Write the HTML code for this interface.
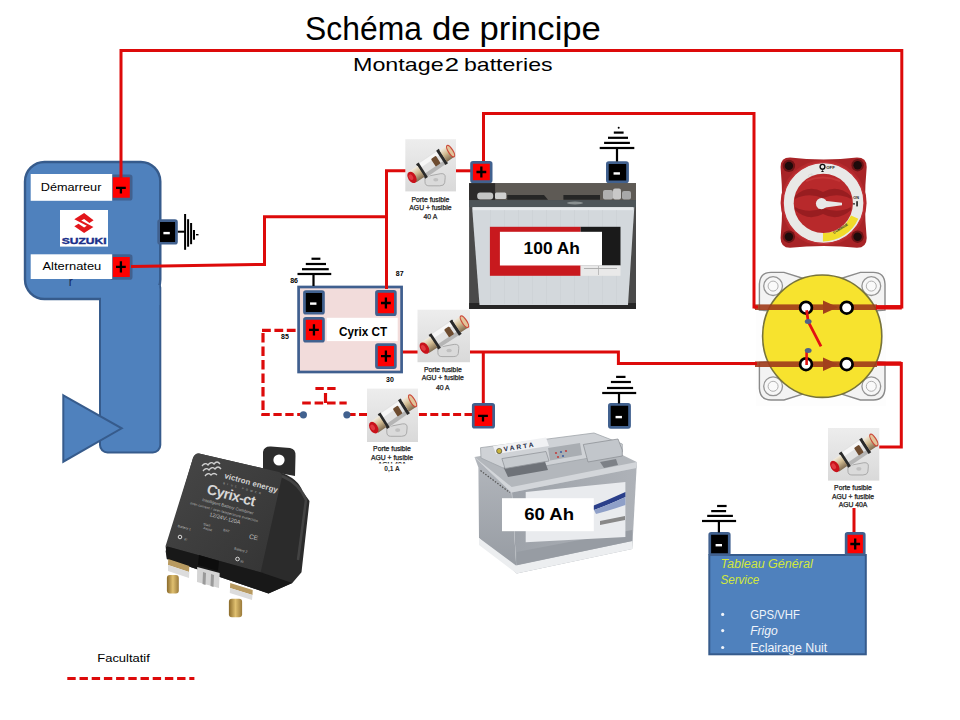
<!DOCTYPE html><html><head><meta charset="utf-8"><style>html,body{margin:0;padding:0;background:#fff;}svg{display:block;}</style></head><body>
<svg width="960" height="720" viewBox="0 0 960 720" font-family='"Liberation Sans", sans-serif'>
<defs>
<linearGradient id="fbg" x1="0" y1="0" x2="0" y2="1"><stop offset="0" stop-color="#ededed"/><stop offset="1" stop-color="#d9d9d9"/></linearGradient>
<linearGradient id="cyf" x1="0" y1="0" x2="1" y2="1"><stop offset="0" stop-color="#474747"/><stop offset="1" stop-color="#343434"/></linearGradient>
<linearGradient id="vfront" x1="0" y1="0" x2="1" y2="0"><stop offset="0" stop-color="#9da2a9"/><stop offset="1" stop-color="#aeb2b8"/></linearGradient>
<linearGradient id="vside" x1="0" y1="0" x2="0" y2="1"><stop offset="0" stop-color="#b3b7bd"/><stop offset="1" stop-color="#959aa1"/></linearGradient>
<linearGradient id="gold" x1="0" y1="0" x2="0" y2="1"><stop offset="0" stop-color="#f2ece0"/><stop offset="0.45" stop-color="#d2bc92"/><stop offset="1" stop-color="#7e6a50"/></linearGradient>
<linearGradient id="stud" x1="0" y1="0" x2="1" y2="0"><stop offset="0" stop-color="#8a6a2a"/><stop offset="0.5" stop-color="#e0c070"/><stop offset="1" stop-color="#9a7a3a"/></linearGradient>
<radialGradient id="knob" cx="0.45" cy="0.4" r="0.6"><stop offset="0" stop-color="#c8383a"/><stop offset="1" stop-color="#9e1e22"/></radialGradient>
</defs>
<text x="305.1" y="40" font-size="33" textLength="116.8" lengthAdjust="spacingAndGlyphs" fill="#000">Schéma</text>
<text x="432" y="40" font-size="33" textLength="38.7" lengthAdjust="spacingAndGlyphs" fill="#000">de</text>
<text x="479.6" y="40" font-size="33" textLength="121.3" lengthAdjust="spacingAndGlyphs" fill="#000">principe</text>
<text x="353" y="71.3" font-size="19" textLength="90.6" lengthAdjust="spacingAndGlyphs" fill="#000">Montage</text>
<text x="444.6" y="71.3" font-size="19" textLength="14.6" lengthAdjust="spacingAndGlyphs" fill="#000">2</text>
<text x="464" y="71.3" font-size="19" textLength="88.5" lengthAdjust="spacingAndGlyphs" fill="#000">batteries</text>
<rect x="100" y="280" width="60.3" height="172.5" rx="7.5" fill="#4f81bd" stroke="#365b8c" stroke-width="2"/>
<rect x="25" y="162" width="135.3" height="137" rx="19.5" fill="#4f81bd" stroke="#365b8c" stroke-width="2.4"/>
<rect x="101" y="285" width="58.3" height="20" fill="#4f81bd"/>
<path d="M63.3,395.3 L121.7,428.3 L63.3,461.7 Z" fill="#4f81bd" stroke="#365b8c" stroke-width="2"/>
<rect x="111.35" y="175.85" width="19.80" height="23.30" rx="1.5" fill="#ff0000" stroke="#41618f" stroke-width="2.7"/>
<path d="M116.00,187.80 H125.80 M120.90,187.80 V193.40" stroke="#000" stroke-width="2.3"/>
<rect x="111.35" y="255.65" width="19.80" height="22.80" rx="1.5" fill="#ff0000" stroke="#41618f" stroke-width="2.7"/>
<path d="M116.00,266.90 H125.80 M120.90,261.30 V272.50" stroke="#000" stroke-width="2.3"/>
<rect x="30.7" y="174" width="81.5" height="26.8" fill="#fff"/>
<rect x="30.7" y="254.3" width="81.5" height="24.7" fill="#fff"/>
<text x="40.8" y="191.1" font-size="11" textLength="60.6" lengthAdjust="spacingAndGlyphs" fill="#000">Démarreur</text>
<text x="42.5" y="269.9" font-size="11" textLength="58.8" lengthAdjust="spacingAndGlyphs" fill="#000">Alternateu</text>
<text x="68.8" y="286" font-size="12" fill="#14285a">r</text>
<rect x="60" y="210" width="48" height="36.6" fill="#fff"/>
<path d="M74.3,219.3 L84.1,213 L93.6,220.3 L89.4,222.9 L84.1,218.9 L81.2,220.6 L93.4,226.9 L84.1,232.9 L74.3,226.3 L78.5,223.7 L84.1,227.4 L86.8,225.7 Z" fill="#e3161b"/>
<text x="84.2" y="243.6" font-size="8.4" font-weight="bold" text-anchor="middle" textLength="44.9" lengthAdjust="spacingAndGlyphs" fill="#1a2f8a" stroke="#1a2f8a" stroke-width="0.35">SUZUKI</text>
<path d="M121,178 L121,50.4 L901.8,50.4 L901.8,307 L870,307" fill="none" stroke="#dd0a0a" stroke-width="3" stroke-linejoin="miter"/>
<path d="M483.5,161 L483.5,113.5 L754,113.5 L754,307 L775,307" fill="none" stroke="#dd0a0a" stroke-width="3" stroke-linejoin="miter"/>
<path d="M131,266.5 L264.5,264.4 L264.5,216.7 L386.5,216.7" fill="none" stroke="#dd0a0a" stroke-width="3" stroke-linejoin="miter"/>
<path d="M386.5,285.5 L386.5,170.8 L406,170.8" fill="none" stroke="#dd0a0a" stroke-width="3" stroke-linejoin="miter"/>
<path d="M455,170.8 L471,170.8" fill="none" stroke="#dd0a0a" stroke-width="3" stroke-linejoin="miter"/>
<path d="M396,352 L418,352" fill="none" stroke="#dd0a0a" stroke-width="3" stroke-linejoin="miter"/>
<path d="M469,352 L618.4,352 L618.4,363.6 L775,363.6" fill="none" stroke="#dd0a0a" stroke-width="3" stroke-linejoin="miter"/>
<path d="M875,363.6 L901.3,363.6 L901.3,447 L879,447" fill="none" stroke="#dd0a0a" stroke-width="3" stroke-linejoin="miter"/>
<path d="M483.3,352 L483.3,404.5" fill="none" stroke="#dd0a0a" stroke-width="3" stroke-linejoin="miter"/>
<path d="M262,330.4 L303,330.4" fill="none" stroke="#dd0a0a" stroke-width="3.2" stroke-linejoin="miter" stroke-dasharray="8.8 3.6"/>
<path d="M263,333 L263,416" fill="none" stroke="#dd0a0a" stroke-width="3.2" stroke-linejoin="miter" stroke-dasharray="9.5 4"/>
<path d="M261.5,414.5 L303,414.5" fill="none" stroke="#dd0a0a" stroke-width="3.2" stroke-linejoin="miter" stroke-dasharray="8.3 3.6"/>
<path d="M347,414.5 L368,414.5" fill="none" stroke="#dd0a0a" stroke-width="3.2" stroke-linejoin="miter" stroke-dasharray="8.6 3.4"/>
<path d="M418.9,414.5 L472,414.5" fill="none" stroke="#dd0a0a" stroke-width="3.2" stroke-linejoin="miter" stroke-dasharray="8 3.4"/>
<path d="M302.2,403 L346.7,403" fill="none" stroke="#dd0a0a" stroke-width="3.2" stroke-linejoin="miter" stroke-dasharray="8.6 3.8"/>
<path d="M325.5,393 L325.5,403" fill="none" stroke="#dd0a0a" stroke-width="3.2" stroke-linejoin="miter"/>
<path d="M315.4,388.5 L336,388.5" fill="none" stroke="#dd0a0a" stroke-width="3.2" stroke-linejoin="miter" stroke-dasharray="8.4 3.4"/>
<path d="M67.3,678.4 L194.4,678.4" fill="none" stroke="#dd0a0a" stroke-width="3" stroke-linejoin="miter" stroke-dasharray="8.4 3.8"/>
<circle cx="303.4" cy="414.8" r="3.6" fill="#41618f"/>
<circle cx="346.9" cy="414.8" r="3.6" fill="#41618f"/>
<rect x="158.65" y="220.65" width="17.80" height="22.60" rx="1.5" fill="#000000" stroke="#41618f" stroke-width="2.7"/>
<rect x="163.40" y="231.90" width="6.4" height="2.4" fill="#fff"/>
<rect x="177.8" y="230.7" width="7" height="2" fill="#000"/>
<rect x="184.1" y="214" width="2" height="35.8" fill="#000"/>
<rect x="187.1" y="219.2" width="2" height="27.5" fill="#000"/>
<rect x="190.1" y="223" width="2" height="21.2" fill="#000"/>
<rect x="193" y="230" width="2" height="9.7" fill="#000"/>
<rect x="196" y="234" width="2.5" height="1.4" fill="#000"/>
<rect x="471.55" y="162.35" width="19.60" height="19.30" rx="1.5" fill="#ff0000" stroke="#41618f" stroke-width="2.7"/>
<path d="M476.45,172.00 H486.25 M481.35,166.40 V177.60" stroke="#000" stroke-width="2.3"/>
<rect x="607.35" y="162.65" width="20.20" height="19.20" rx="1.5" fill="#000000" stroke="#41618f" stroke-width="2.7"/>
<rect x="613.55" y="172.25" width="6.4" height="2.4" fill="#fff"/>
<rect x="599.70" y="146.90" width="34.60" height="2.2" fill="#000"/>
<rect x="604.10" y="141.80" width="25.80" height="2.2" fill="#000"/>
<rect x="608.00" y="136.70" width="20.00" height="2.2" fill="#000"/>
<rect x="613.80" y="131.50" width="9.80" height="2.2" fill="#000"/>
<rect x="615.90" y="148.00" width="2.2" height="13.50" fill="#000"/>
<circle cx="618.7" cy="127.8" r="1" fill="#000"/>
<rect x="298.6" y="287" width="103" height="85" fill="#f2dcdb" stroke="#3f5f8f" stroke-width="2.7"/>
<rect x="326.7" y="317.8" width="71" height="23.3" fill="#fff"/>
<text x="339" y="336" font-size="12.3" font-weight="bold" textLength="48.2" lengthAdjust="spacingAndGlyphs" fill="#000">Cyrix CT</text>
<rect x="304.45" y="291.55" width="19.00" height="21.70" rx="1.5" fill="#000000" stroke="#41618f" stroke-width="2.7"/>
<rect x="310.05" y="302.40" width="6.4" height="2.4" fill="#fff"/>
<rect x="304.45" y="318.45" width="19.00" height="22.80" rx="1.5" fill="#ff0000" stroke="#41618f" stroke-width="2.7"/>
<path d="M309.05,329.85 H318.85 M313.95,324.25 V335.45" stroke="#000" stroke-width="2.3"/>
<rect x="376.45" y="291.35" width="18.90" height="23.30" rx="1.5" fill="#ff0000" stroke="#41618f" stroke-width="2.7"/>
<path d="M381.00,303.00 H390.80 M385.90,297.40 V308.60" stroke="#000" stroke-width="2.3"/>
<rect x="376.45" y="344.65" width="18.90" height="22.90" rx="1.5" fill="#ff0000" stroke="#41618f" stroke-width="2.7"/>
<path d="M381.00,356.10 H390.80 M385.90,350.50 V361.70" stroke="#000" stroke-width="2.3"/>
<path d="M386.5,283 L386.5,289" fill="none" stroke="#dd0a0a" stroke-width="3" stroke-linejoin="miter"/>
<rect x="297.50" y="272.90" width="33.75" height="2.2" fill="#000"/>
<rect x="302.00" y="268.10" width="26.75" height="2.2" fill="#000"/>
<rect x="305.80" y="262.90" width="20.20" height="2.2" fill="#000"/>
<rect x="311.50" y="257.65" width="8.90" height="2.2" fill="#000"/>
<rect x="312.40" y="274.00" width="2.2" height="12.00" fill="#000"/>
<text x="290.2" y="283.2" font-size="7" font-weight="bold" fill="#000">86</text>
<text x="395.8" y="276" font-size="7" font-weight="bold" fill="#000">87</text>
<text x="281" y="338.8" font-size="7" font-weight="bold" fill="#000">85</text>
<text x="386" y="381.5" font-size="7" font-weight="bold" fill="#000">30</text>
<rect x="473.25" y="404.35" width="20.40" height="22.90" rx="1.5" fill="#ff0000" stroke="#41618f" stroke-width="2.7"/>
<path d="M478.10,415.80 H487.90 M483.00,415.80 V421.40" stroke="#000" stroke-width="2.3"/>
<rect x="609.35" y="404.45" width="20.20" height="22.90" rx="1.5" fill="#000000" stroke="#41618f" stroke-width="2.7"/>
<rect x="615.55" y="415.90" width="6.4" height="2.4" fill="#fff"/>
<rect x="602.20" y="391.90" width="34.00" height="2.2" fill="#000"/>
<rect x="607.00" y="386.90" width="26.10" height="2.2" fill="#000"/>
<rect x="610.90" y="380.90" width="20.00" height="2.2" fill="#000"/>
<rect x="616.10" y="375.80" width="9.40" height="2.2" fill="#000"/>
<rect x="617.90" y="393.00" width="2.2" height="10.50" fill="#000"/>
<g transform="translate(405.3,139.2) scale(0.9845,1.0136)">
<rect x="0" y="0" width="51.5" height="51.5" fill="url(#fbg)"/>
<path d="M20,37 L36,34 Q41,33.5 40.5,38 L40,43 Q39.5,46 35,46 L24,46 Q20,46 20,42 Z" fill="#dadada" stroke="#a5a5a5" stroke-width="0.9"/>
<ellipse cx="31" cy="40" rx="2.6" ry="1.8" fill="#c0c0c0"/>
<g transform="translate(26,25) rotate(-33.5)">
<rect x="-10" y="-8.5" width="22.5" height="17" rx="1" fill="#e2e2e2"/>
<rect x="-10" y="-7.5" width="22.5" height="4.5" fill="#f7f7f7"/>
<rect x="-10" y="4" width="22.5" height="4" fill="#b5b5b5"/>
<rect x="3" y="-4.5" width="6" height="9" rx="1" fill="#6e4c30"/>
<rect x="-12.5" y="-8.5" width="3.2" height="17" fill="#2a2a2a"/>
<rect x="12" y="-8.5" width="3.2" height="17" fill="#2a2a2a"/>
<rect x="-22" y="-6.5" width="10" height="13" fill="url(#gold)"/>
<rect x="15" y="-6.8" width="9" height="13.6" fill="url(#gold)"/>
<ellipse cx="24" cy="0" rx="2.3" ry="6.6" fill="#e2c49a" stroke="#cc4a3a" stroke-width="1.2"/>
<ellipse cx="-23" cy="0" rx="4" ry="6.2" fill="#c8121a"/>
<ellipse cx="-23.8" cy="-0.8" rx="2" ry="3" fill="#e23a40"/>
</g>
</g>
<text x="430.4" y="201.5" font-size="6.8" text-anchor="middle" fill="#1a1a1a" stroke="#1a1a1a" stroke-width="0.25">Porte fusible</text>
<text x="430.4" y="209.8" font-size="6.8" text-anchor="middle" fill="#1a1a1a" stroke="#1a1a1a" stroke-width="0.25">AGU + fusible</text>
<text x="430.4" y="219.1" font-size="6.8" text-anchor="middle" fill="#1a1a1a" stroke="#1a1a1a" stroke-width="0.25">40 A</text>
<g transform="translate(417.5,309.7) scale(1.0194,1.0194)">
<rect x="0" y="0" width="51.5" height="51.5" fill="url(#fbg)"/>
<path d="M20,37 L36,34 Q41,33.5 40.5,38 L40,43 Q39.5,46 35,46 L24,46 Q20,46 20,42 Z" fill="#dadada" stroke="#a5a5a5" stroke-width="0.9"/>
<ellipse cx="31" cy="40" rx="2.6" ry="1.8" fill="#c0c0c0"/>
<g transform="translate(26,25) rotate(-33.5)">
<rect x="-10" y="-8.5" width="22.5" height="17" rx="1" fill="#e2e2e2"/>
<rect x="-10" y="-7.5" width="22.5" height="4.5" fill="#f7f7f7"/>
<rect x="-10" y="4" width="22.5" height="4" fill="#b5b5b5"/>
<rect x="3" y="-4.5" width="6" height="9" rx="1" fill="#6e4c30"/>
<rect x="-12.5" y="-8.5" width="3.2" height="17" fill="#2a2a2a"/>
<rect x="12" y="-8.5" width="3.2" height="17" fill="#2a2a2a"/>
<rect x="-22" y="-6.5" width="10" height="13" fill="url(#gold)"/>
<rect x="15" y="-6.8" width="9" height="13.6" fill="url(#gold)"/>
<ellipse cx="24" cy="0" rx="2.3" ry="6.6" fill="#e2c49a" stroke="#cc4a3a" stroke-width="1.2"/>
<ellipse cx="-23" cy="0" rx="4" ry="6.2" fill="#c8121a"/>
<ellipse cx="-23.8" cy="-0.8" rx="2" ry="3" fill="#e23a40"/>
</g>
</g>
<text x="442.8" y="371.6" font-size="6.8" text-anchor="middle" fill="#1a1a1a" stroke="#1a1a1a" stroke-width="0.25">Porte fusible</text>
<text x="442.8" y="380.1" font-size="6.8" text-anchor="middle" fill="#1a1a1a" stroke="#1a1a1a" stroke-width="0.25">AGU + fusible</text>
<text x="442.8" y="390.1" font-size="6.8" text-anchor="middle" fill="#1a1a1a" stroke="#1a1a1a" stroke-width="0.25">40 A</text>
<g transform="translate(367,388.6) scale(0.9903,1.0369)">
<rect x="0" y="0" width="51.5" height="51.5" fill="url(#fbg)"/>
<path d="M20,37 L36,34 Q41,33.5 40.5,38 L40,43 Q39.5,46 35,46 L24,46 Q20,46 20,42 Z" fill="#dadada" stroke="#a5a5a5" stroke-width="0.9"/>
<ellipse cx="31" cy="40" rx="2.6" ry="1.8" fill="#c0c0c0"/>
<g transform="translate(26,25) rotate(-33.5)">
<rect x="-10" y="-8.5" width="22.5" height="17" rx="1" fill="#e2e2e2"/>
<rect x="-10" y="-7.5" width="22.5" height="4.5" fill="#f7f7f7"/>
<rect x="-10" y="4" width="22.5" height="4" fill="#b5b5b5"/>
<rect x="3" y="-4.5" width="6" height="9" rx="1" fill="#6e4c30"/>
<rect x="-12.5" y="-8.5" width="3.2" height="17" fill="#2a2a2a"/>
<rect x="12" y="-8.5" width="3.2" height="17" fill="#2a2a2a"/>
<rect x="-22" y="-6.5" width="10" height="13" fill="url(#gold)"/>
<rect x="15" y="-6.8" width="9" height="13.6" fill="url(#gold)"/>
<ellipse cx="24" cy="0" rx="2.3" ry="6.6" fill="#e2c49a" stroke="#cc4a3a" stroke-width="1.2"/>
<ellipse cx="-23" cy="0" rx="4" ry="6.2" fill="#c8121a"/>
<ellipse cx="-23.8" cy="-0.8" rx="2" ry="3" fill="#e23a40"/>
</g>
</g>
<text x="392" y="451.1" font-size="6.8" text-anchor="middle" fill="#1a1a1a" stroke="#1a1a1a" stroke-width="0.25">Porte fusible</text>
<text x="392" y="459.5" font-size="6.8" text-anchor="middle" fill="#1a1a1a" stroke="#1a1a1a" stroke-width="0.25">AGU + fusible</text>
<text x="392" y="466.8" font-size="6.8" text-anchor="middle" fill="#1a1a1a" stroke="#1a1a1a" stroke-width="0.25">AGU 40A</text>
<rect x="375" y="463.5" width="36" height="10" fill="#fff"/>
<text x="392" y="470.6" font-size="6.6" font-weight="bold" text-anchor="middle" fill="#2a2a2a">0,1 A</text>
<g transform="translate(828,428) scale(0.9961,1.0214)">
<rect x="0" y="0" width="51.5" height="51.5" fill="url(#fbg)"/>
<path d="M20,37 L36,34 Q41,33.5 40.5,38 L40,43 Q39.5,46 35,46 L24,46 Q20,46 20,42 Z" fill="#dadada" stroke="#a5a5a5" stroke-width="0.9"/>
<ellipse cx="31" cy="40" rx="2.6" ry="1.8" fill="#c0c0c0"/>
<g transform="translate(26,25) rotate(-33.5)">
<rect x="-10" y="-8.5" width="22.5" height="17" rx="1" fill="#e2e2e2"/>
<rect x="-10" y="-7.5" width="22.5" height="4.5" fill="#f7f7f7"/>
<rect x="-10" y="4" width="22.5" height="4" fill="#b5b5b5"/>
<rect x="3" y="-4.5" width="6" height="9" rx="1" fill="#6e4c30"/>
<rect x="-12.5" y="-8.5" width="3.2" height="17" fill="#2a2a2a"/>
<rect x="12" y="-8.5" width="3.2" height="17" fill="#2a2a2a"/>
<rect x="-22" y="-6.5" width="10" height="13" fill="url(#gold)"/>
<rect x="15" y="-6.8" width="9" height="13.6" fill="url(#gold)"/>
<ellipse cx="24" cy="0" rx="2.3" ry="6.6" fill="#e2c49a" stroke="#cc4a3a" stroke-width="1.2"/>
<ellipse cx="-23" cy="0" rx="4" ry="6.2" fill="#c8121a"/>
<ellipse cx="-23.8" cy="-0.8" rx="2" ry="3" fill="#e23a40"/>
</g>
</g>
<text x="853" y="489.6" font-size="6.8" text-anchor="middle" fill="#1a1a1a" stroke="#1a1a1a" stroke-width="0.25">Porte fusible</text>
<text x="853" y="498.6" font-size="6.8" text-anchor="middle" fill="#1a1a1a" stroke="#1a1a1a" stroke-width="0.25">AGU + fusible</text>
<text x="853" y="506.6" font-size="6.8" text-anchor="middle" fill="#1a1a1a" stroke="#1a1a1a" stroke-width="0.25">AGU 40A</text>
<path d="M854,508 L854,533" fill="none" stroke="#dd0a0a" stroke-width="3" stroke-linejoin="miter"/>
<rect x="469.1" y="183.2" width="166.9" height="125.7" fill="#4a4a4a"/><rect x="469.1" y="303" width="166.9" height="6" fill="#262626"/>
<rect x="469.1" y="183.2" width="166.9" height="17" fill="#5e5a55"/>
<rect x="469.1" y="183.2" width="26" height="17" fill="#2c2a2a"/>
<rect x="477.2" y="192.6" width="16" height="6.8" rx="3" fill="#c4c4c4"/>
<rect x="495" y="192.6" width="11.3" height="6.5" rx="1.5" fill="#d0d0d0"/>
<path d="M507.2,195 L544,195 L548,199.7 L507.2,199.7 Z" fill="#262626"/>
<path d="M563.4,195 L600,195 L600,199.7 L563.4,199.7 Z" fill="#262626"/>
<rect x="603" y="190" width="10" height="9.5" rx="2" fill="#b0b0b0"/>
<rect x="613" y="188.5" width="8" height="11" rx="2" fill="#c8c8c8"/>
<rect x="622" y="191" width="9" height="8.5" rx="2" fill="#a8a8a8"/>
<rect x="469.1" y="200.1" width="166.9" height="7.1" fill="#4e5558"/>
<ellipse cx="575" cy="203" rx="8" ry="1.5" fill="#8a9090"/>
<path d="M472.1,207.2 L634.3,207.2 L628,305 L479.5,305 Z" fill="#d3d8dc"/>
<rect x="473" y="207.2" width="160" height="3" fill="#e6e9eb"/>
<rect x="490" y="210" width="0.8" height="94" fill="#c8cdd1" opacity="0.6"/>
<rect x="504" y="210" width="0.8" height="94" fill="#c8cdd1" opacity="0.6"/>
<rect x="518" y="210" width="0.8" height="94" fill="#c8cdd1" opacity="0.6"/>
<rect x="532" y="210" width="0.8" height="94" fill="#c8cdd1" opacity="0.6"/>
<rect x="546" y="210" width="0.8" height="94" fill="#c8cdd1" opacity="0.6"/>
<rect x="560" y="210" width="0.8" height="94" fill="#c8cdd1" opacity="0.6"/>
<rect x="574" y="210" width="0.8" height="94" fill="#c8cdd1" opacity="0.6"/>
<rect x="588" y="210" width="0.8" height="94" fill="#c8cdd1" opacity="0.6"/>
<rect x="602" y="210" width="0.8" height="94" fill="#c8cdd1" opacity="0.6"/>
<rect x="616" y="210" width="0.8" height="94" fill="#c8cdd1" opacity="0.6"/>
<rect x="489.9" y="226.8" width="90.7" height="49" fill="#c8191e"/>
<rect x="580.6" y="226.8" width="39.9" height="38.7" fill="#1a1a1a"/>
<rect x="580.6" y="265.5" width="39.9" height="10.3" fill="#e9e9e9"/>
<rect x="584" y="268" width="33" height="0.7" fill="#999"/><rect x="598" y="266" width="0.7" height="9" fill="#aaa"/>
<rect x="499.9" y="231.8" width="102.1" height="33.7" fill="#fff"/>
<text x="523.6" y="253.8" font-size="16.8" font-weight="bold" textLength="56.4" lengthAdjust="spacingAndGlyphs" fill="#000">100 Ah</text>
<path d="M474.5,457 L511.7,492.5 L516.7,573.6 L479,538 L478.4,467.5 Z" fill="url(#vside)"/>
<path d="M511.7,487 L636.7,465.6 L632.2,549 L516.7,573.6 Z" fill="url(#vfront)"/>
<path d="M474.5,457 L588,438 L636.7,462 L636.7,468 L511.7,492.5 Z" fill="#b3b7bc"/>
<path d="M474.5,457 L511.7,487 L636.7,462 L636.7,468 L511.7,492.5 Z" fill="#d3d6da"/>
<path d="M480.5,447.7 L594,433 L622.3,444 L622.3,452 L512,472 L481,458 Z" fill="#cfd2d6" stroke="#a0a4a9" stroke-width="0.8"/>
<path d="M493,446 L546,437.5 L549,446 L496,454 Z" fill="#f0f1f3"/>
<text transform="translate(504,451.5) rotate(-9)" font-size="6.6" font-weight="bold" textLength="30" fill="#222a44">VARTA</text>
<circle cx="499.2" cy="451" r="2.6" fill="#c8b43c" stroke="#333" stroke-width="0.6"/>
<path d="M503.6,467.5 L544.4,460 L548,470 L508,477 Z" fill="#6e7278"/>
<path d="M501.9,458.6 L546,451.5 L549,461 L505,468.5 Z" fill="#c6cace" stroke="#92969b" stroke-width="0.8"/>
<path d="M548,448 L580,443 L582,455 L550,460.4 Z" fill="#a9adb2"/>
<circle cx="556" cy="453" r="1.1" fill="#c04040"/><circle cx="561" cy="452" r="1.1" fill="#4060a0"/><circle cx="566" cy="451" r="1.1" fill="#c04040"/><circle cx="558" cy="457" r="1.1" fill="#c04040"/><circle cx="563" cy="456" r="1.1" fill="#4060a0"/>
<path d="M583.3,444.5 L618,439 L622.3,450 L622.3,456 L588,462 Z" fill="#c2c6cb" stroke="#8e9297" stroke-width="0.8"/>
<path d="M600,462 L616,459 L618,465 L604,468 Z" fill="#7d8187"/>
<path d="M480.5,470.6 L509.7,492.5" stroke="#555" stroke-width="1.2" stroke-dasharray="1.5 1.5"/>
<path d="M479,538 L516,565.4 L632.2,541 L632.2,549 L516.7,573.6 L479,545 Z" fill="#eceef0"/>
<path d="M516.7,552 L632.2,530 L632.2,541 L516.7,565 Z" fill="#979ca3"/>
<path d="M525.7,492 L625.4,481.9 L625.4,537 L525.7,542.3 Z" fill="#e9ebee"/>
<path d="M590,507 Q608,500 625.4,492 L625.4,497 Q608,505 594,510 Z" fill="#2a3f8a"/><path d="M594,510 Q608,505 625.4,497 L625.4,505 Q608,511 596,514 Z" fill="#8fa0c8"/>
<path d="M600,521 L625,516 L625,520 L600,525 Z" fill="#888"/>
<rect x="502" y="498.2" width="91.8" height="33" fill="#fff"/>
<text x="524.2" y="519.8" font-size="16.5" font-weight="bold" textLength="49.8" lengthAdjust="spacingAndGlyphs" fill="#000">60  Ah</text>
<path d="M790,157.6 Q806,159.5 823.6,159.5 Q841,159.5 857,157.6 Q866.7,157.6 866.7,167 Q865,185 865,202.7 Q865,221 866.7,238 Q866.7,247.8 857,247.8 Q841,246 823.6,246 Q806,246 790,247.8 Q780.6,247.8 780.6,238 Q782.2,221 782.2,202.7 Q782.2,185 780.6,167 Q780.6,157.6 790,157.6 Z" fill="#a82427"/>
<circle cx="823.6" cy="203" r="43" fill="#b52a2d"/>
<circle cx="788.9" cy="165.9" r="6.2" fill="#6e1416"/><circle cx="788.9" cy="165.9" r="4.2" fill="#1e0b0b"/>
<circle cx="857.6" cy="165.2" r="6.2" fill="#6e1416"/><circle cx="857.6" cy="165.2" r="4.2" fill="#1e0b0b"/>
<circle cx="788.9" cy="236.7" r="6.2" fill="#6e1416"/><circle cx="788.9" cy="236.7" r="4.2" fill="#1e0b0b"/>
<circle cx="857.6" cy="236.7" r="6.2" fill="#6e1416"/><circle cx="857.6" cy="236.7" r="4.2" fill="#1e0b0b"/>
<circle cx="823.6" cy="203" r="40.4" fill="#e9e9e7" stroke="#c03035" stroke-width="1.2"/>
<path d="M858.3,218.7 A38.5,38.5 0 0 1 822.9,241.5 L823,232.8 A29.5,29.5 0 0 0 851,215.5 Z" fill="#f1dc2a"/>
<text transform="translate(834,234) rotate(-32)" font-size="3.6" font-weight="bold" fill="#333">COMBINE</text>
<text x="809" y="178" font-size="4" fill="#c9c9c9" transform="rotate(-30 809 178)">CE</text>
<circle cx="823.3" cy="203.4" r="29.6" fill="#b8292b"/>
<path d="M795,196 Q808,184 823,192 Q838,184 851,196 L851,199 Q838,192 823,198 Q808,192 795,199 Z" fill="#8e1a1d" opacity="0.75"/>
<path d="M795,210 Q808,222 823,214 Q838,222 851,210 L851,207 Q838,214 823,208 Q808,214 795,207 Z" fill="#8e1a1d" opacity="0.75"/>
<path d="M806,181 Q823,174 840,181" fill="none" stroke="#cc4040" stroke-width="2" opacity="0.6"/>
<path d="M818,200 L842,202.8 L842,205.2 L818,208.5 Z" fill="#e8e8e8"/><circle cx="821.5" cy="203.6" r="5.6" fill="#e8e8e8"/>
<circle cx="822.5" cy="166.8" r="2.4" fill="none" stroke="#111" stroke-width="1.4"/>
<path d="M822.5,170 l-1.5,2 h3 Z" fill="#111"/>
<text x="826.2" y="168.9" font-size="4.3" font-weight="bold" fill="#222">OFF</text>
<text x="853.2" y="199.2" font-size="3.8" font-weight="bold" fill="#222">ON</text>
<rect x="856.3" y="201.2" width="1.5" height="5.2" fill="#111"/><circle cx="854" cy="203.8" r="0.9" fill="#111"/>
<rect x="756" y="270" width="130" height="136" fill="#fdfdfd"/>
<g transform="translate(822.2,336.2) scale(1,1) translate(-822.2,-336.2)">
<path d="M759.4,310 L759.4,284 Q760,272.4 771,272.4 L784,272.4 L805,279 L785,312 Z" fill="#f3f3f3" stroke="#8a8a8a" stroke-width="1.4"/>
<circle cx="773.1" cy="286.1" r="9.4" fill="#f7f7f7" stroke="#959595" stroke-width="1.3"/><circle cx="773.1" cy="286.1" r="5" fill="#fafafa" stroke="#b0b0b0" stroke-width="1"/>
</g>
<g transform="translate(822.2,336.2) scale(-1,1) translate(-822.2,-336.2)">
<path d="M759.4,310 L759.4,284 Q760,272.4 771,272.4 L784,272.4 L805,279 L785,312 Z" fill="#f3f3f3" stroke="#8a8a8a" stroke-width="1.4"/>
<circle cx="773.1" cy="286.1" r="9.4" fill="#f7f7f7" stroke="#959595" stroke-width="1.3"/><circle cx="773.1" cy="286.1" r="5" fill="#fafafa" stroke="#b0b0b0" stroke-width="1"/>
</g>
<g transform="translate(822.2,336.2) scale(1,-1) translate(-822.2,-336.2)">
<path d="M759.4,310 L759.4,284 Q760,272.4 771,272.4 L784,272.4 L805,279 L785,312 Z" fill="#f3f3f3" stroke="#8a8a8a" stroke-width="1.4"/>
<circle cx="773.1" cy="286.1" r="9.4" fill="#f7f7f7" stroke="#959595" stroke-width="1.3"/><circle cx="773.1" cy="286.1" r="5" fill="#fafafa" stroke="#b0b0b0" stroke-width="1"/>
</g>
<g transform="translate(822.2,336.2) scale(-1,-1) translate(-822.2,-336.2)">
<path d="M759.4,310 L759.4,284 Q760,272.4 771,272.4 L784,272.4 L805,279 L785,312 Z" fill="#f3f3f3" stroke="#8a8a8a" stroke-width="1.4"/>
<circle cx="773.1" cy="286.1" r="9.4" fill="#f7f7f7" stroke="#959595" stroke-width="1.3"/><circle cx="773.1" cy="286.1" r="5" fill="#fafafa" stroke="#b0b0b0" stroke-width="1"/>
</g>
<ellipse cx="822.2" cy="336.2" rx="59.6" ry="61.2" fill="#f7e32e" stroke="#77733a" stroke-width="1.6"/>
<rect x="755" y="304.4" width="122" height="5.6" fill="#9e3a1a" opacity="0.9"/>
<rect x="755" y="361.4" width="122" height="5.6" fill="#9e3a1a" opacity="0.9"/>
<path d="M823,300.5 L838,307.2 L823,314 Z" fill="#a2401c"/><path d="M823,357.5 L838,364.2 L823,371 Z" fill="#a2401c"/>
<circle cx="806" cy="307.7" r="5.9" fill="#fff" stroke="#000" stroke-width="2.7"/>
<circle cx="846.7" cy="307.7" r="5.9" fill="#fff" stroke="#000" stroke-width="2.7"/>
<circle cx="806" cy="364.2" r="5.9" fill="#fff" stroke="#000" stroke-width="2.7"/>
<circle cx="846.7" cy="364.2" r="5.9" fill="#fff" stroke="#000" stroke-width="2.7"/>
<path d="M806.6,310.3 L808.2,321.6 L821,346.3" fill="none" stroke="#e31212" stroke-width="2.8"/>
<path d="M806.6,352 L806.6,365" stroke="#e31212" stroke-width="2.6"/>
<ellipse cx="808.2" cy="321.6" rx="3.4" ry="2.5" fill="#4f6388"/><ellipse cx="808.2" cy="350.4" rx="3.4" ry="2.5" fill="#4f6388"/>
<path d="M876,307.3 L901.8,307.3" fill="none" stroke="#dd0a0a" stroke-width="4.4" stroke-linejoin="miter"/>
<path d="M877,363.6 L901.3,363.6" fill="none" stroke="#dd0a0a" stroke-width="4.4" stroke-linejoin="miter"/>
<path d="M754,307 L758,307" fill="none" stroke="#dd0a0a" stroke-width="3" stroke-linejoin="miter"/>
<path d="M740,363.6 L757,363.6" fill="none" stroke="#dd0a0a" stroke-width="3" stroke-linejoin="miter"/>
<path d="M263,452 Q264,446 271,446.5 L290,448 Q296,449 295.5,456 L295,476 L263,470 Z" fill="#2c2c2c"/>
<circle cx="279" cy="460" r="5.6" fill="#fff"/>
<path d="M199,453.5 L279.1,472 Q298,478 302.9,491.8 L309.5,501 L301.5,572.3 L292.3,582.9 L268.5,593.4 L166.9,559.1 L165.6,551.2 L193,458 Q195,453 199,453.5 Z" fill="#2b2b2b"/>
<path d="M199,453.5 L279.1,472 Q283,473.5 281.7,478 L260.6,572.3 L165.6,545.9 L193,458 Q195,453 199,453.5 Z" fill="url(#cyf)"/>
<path d="M282,476 Q300,484 306,500 L298,560" fill="none" stroke="#4a4a4a" stroke-width="2.5" opacity="0.8"/>
<path d="M165.6,545.9 L260.6,572.3 L292.3,582.9 L268.5,593.4 L166.9,559.1 Z" fill="#181818"/>
<g fill="#d6d6d6" font-weight="bold">
<text transform="translate(206,493.5) rotate(15)" font-size="14.5" textLength="50">Cyrix-ct</text>
<text transform="translate(224,478) rotate(15.4)" font-size="7.8" textLength="55">victron energy</text>
</g>
<g fill="#bdbdbd">
<text transform="translate(223,484) rotate(15.4)" font-size="2.6" textLength="40" letter-spacing="1">BLUE POWER</text>
<text transform="translate(202,501) rotate(15)" font-size="4.2" textLength="53">Intelligent Battery Combiner</text>
<text transform="translate(190,504) rotate(15)" font-size="3.4" textLength="70">over-current / over-temperature protection</text>
<text transform="translate(209,516) rotate(15)" font-size="5.6" textLength="32">12/24V-120A</text>
<text transform="translate(177.5,527) rotate(15)" font-size="3.4">Battery 1</text>
<text transform="translate(203,525) rotate(15)" font-size="3.4">Start</text>
<text transform="translate(203,529) rotate(15)" font-size="3.4">Assist</text>
<text transform="translate(223,531) rotate(15)" font-size="3.4">BAT</text>
<text transform="translate(248.7,538.5) rotate(12)" font-size="6.5">CE</text>
<text transform="translate(234,549.5) rotate(15)" font-size="3.4">Battery 2</text>
<text transform="translate(184,540) rotate(15)" font-size="3">87</text>
<text transform="translate(240,562) rotate(15)" font-size="3">30</text>
</g>
<path d="M202,466 q3,-4 6,-1 q3,-4 6,-1 q3,-4 6,0 M203,471 q3,-4 6,-1 q3,-4 6,-1 q3,-4 6,0 M205,476 q3,-4 6,-1 q3,-3 6,0" fill="none" stroke="#d0d0d0" stroke-width="1.3"/>
<circle cx="180" cy="537" r="1.8" fill="none" stroke="#ddd" stroke-width="1"/><circle cx="237.5" cy="559" r="1.8" fill="none" stroke="#ddd" stroke-width="1"/>
<path d="M199,555 L219,561 L218,571 L198,565 Z" fill="#0d0d0d"/>
<path d="M197.2,567 L219.7,573 L219,588 L197,582 Z" fill="#d4d4d4"/>
<path d="M203,572 L206,573 L205.5,585 L202.5,584 Z M211,574 L214,575 L213.5,587 L210.5,586 Z" fill="#9a9a9a"/>
<path d="M168.2,559 L189.3,566 L189,572 L168,565 Z" fill="#b89a60"/>
<path d="M168,565 L189.3,572 L189,578 L168,571 Z" fill="#dcdcdc"/>
<path d="M230.2,583 L252.7,590 L252.5,595 L230,588 Z" fill="#b89a60"/>
<path d="M230,588 L252.5,595 L252,600 L229.8,593 Z" fill="#dcdcdc"/>
<rect x="166.9" y="575" width="11.9" height="18.4" rx="3" fill="url(#stud)"/>
<rect x="228.9" y="598.7" width="13.2" height="18.5" rx="3" fill="url(#stud)"/>
<rect x="709.3" y="555" width="156.5" height="99.3" fill="#4f81bd" stroke="#365b8c" stroke-width="2"/>
<rect x="709.75" y="533.35" width="19.50" height="21.30" rx="1.5" fill="#000000" stroke="#41618f" stroke-width="2.7"/>
<rect x="715.60" y="544.00" width="6.4" height="2.4" fill="#fff"/>
<rect x="846.15" y="533.35" width="18.10" height="21.30" rx="1.5" fill="#ff0000" stroke="#41618f" stroke-width="2.7"/>
<path d="M850.30,544.00 H860.10 M855.20,538.40 V549.60" stroke="#000" stroke-width="2.3"/>
<text x="720.4" y="567.8" font-size="12.3" font-style="italic" textLength="92.4" lengthAdjust="spacingAndGlyphs" fill="#d2e83c">Tableau Général</text>
<text x="720.4" y="584.3" font-size="12.3" font-style="italic" textLength="38.9" lengthAdjust="spacingAndGlyphs" fill="#d2e83c">Service</text>
<circle cx="722.7" cy="614.4" r="1.6" fill="#f0f4fa"/>
<circle cx="722.7" cy="630.6" r="1.6" fill="#f0f4fa"/>
<circle cx="722.7" cy="647.5" r="1.6" fill="#f0f4fa"/>
<text x="750.2" y="619.3" font-size="12.3" textLength="49.8" lengthAdjust="spacingAndGlyphs" fill="#f0f4fa">GPS/VHF</text>
<text x="750.2" y="634.8" font-size="12.3" font-style="italic" textLength="27.6" lengthAdjust="spacingAndGlyphs" fill="#f0f4fa">Frigo</text>
<text x="750.2" y="651.7" font-size="12.3" textLength="77.1" lengthAdjust="spacingAndGlyphs" fill="#f0f4fa">Eclairage Nuit</text>
<rect x="702.00" y="519.90" width="34.10" height="2.2" fill="#000"/>
<rect x="707.20" y="514.80" width="25.70" height="2.2" fill="#000"/>
<rect x="711.20" y="510.00" width="14.90" height="2.2" fill="#000"/>
<rect x="717.10" y="504.90" width="9.50" height="2.2" fill="#000"/>
<rect x="717.80" y="521.00" width="2.2" height="11.50" fill="#000"/>
<text x="97.3" y="661.9" font-size="11" textLength="52.5" lengthAdjust="spacingAndGlyphs" fill="#000">Facultatif</text>
</svg></body></html>
